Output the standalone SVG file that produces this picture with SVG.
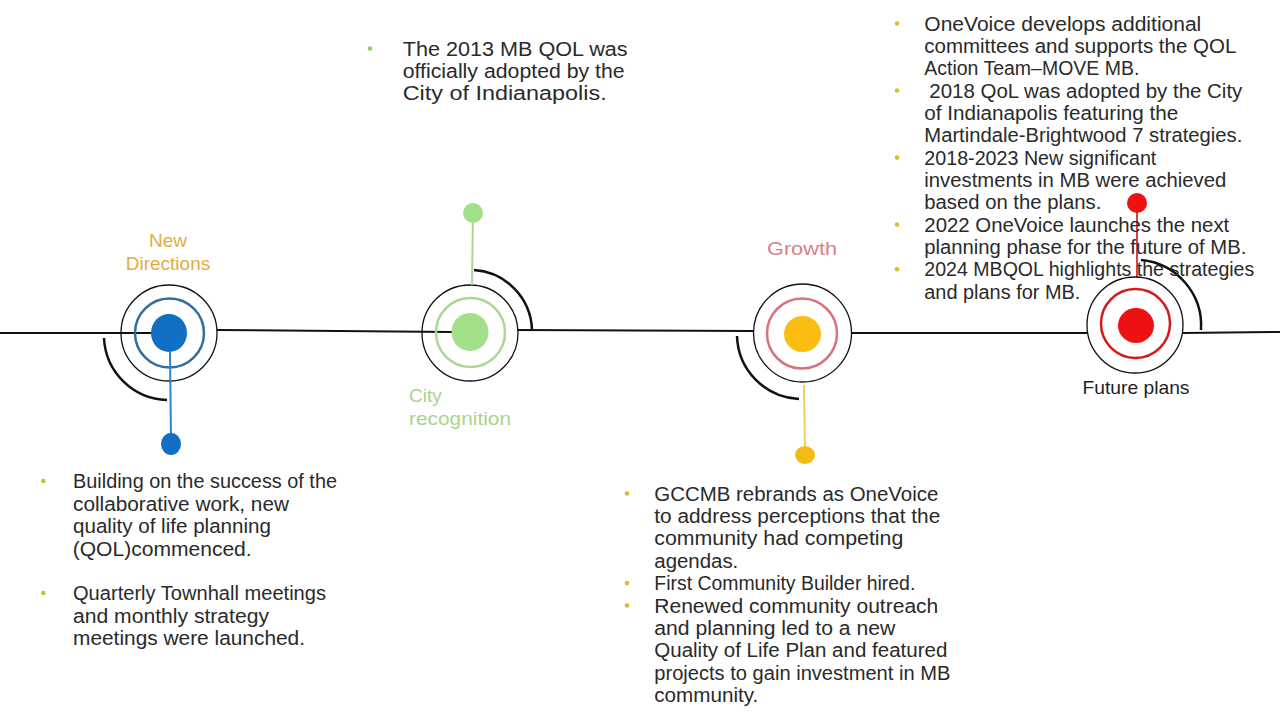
<svg xmlns="http://www.w3.org/2000/svg" width="1280" height="720" viewBox="0 0 1280 720">
<style>
text{font-family:"Liberation Sans",Arial,sans-serif;}
.body{font-size:20px;fill:#2a2a2a;}
.lbl{font-size:19px;}
.outer{fill:#fff;stroke:#111;stroke-width:1.3;}
.arc{fill:none;stroke:#111;stroke-width:2.5;}
.tl{stroke:#111;stroke-width:2;fill:none;}
</style>
<rect width="1280" height="720" fill="#fff"/>
<g id="connectors">
<line class="tl" x1="0" y1="333" x2="152" y2="333"/>
<line class="tl" x1="217" y1="330" x2="452" y2="332"/>
<line class="tl" x1="518" y1="330" x2="753" y2="331"/>
<line class="tl" x1="851" y1="333" x2="1087" y2="333"/>
<line class="tl" x1="1183" y1="333" x2="1280" y2="332"/>
</g>
<g id="node-new-directions">
<path class="arc" d="M104,338 A65,65 0 0 0 167,400"/>
<circle class="outer" cx="169" cy="333" r="48" fill-opacity="0"/>
<circle cx="169.5" cy="333" r="34.5" fill="none" stroke="#2f6e9e" stroke-width="2.5"/>
<ellipse cx="169" cy="333" rx="18" ry="19" fill="#1170c4"/>
<line x1="170" y1="352" x2="171" y2="440" stroke="#2a86c8" stroke-width="2"/>
<ellipse cx="171" cy="444" rx="10" ry="11" fill="#1170c4"/>
<text class="lbl" fill="#e2ad3c" text-anchor="middle"><tspan x="168" y="246.5">New</tspan><tspan x="168" y="269.5">Directions</tspan></text>
</g>
<g id="node-city-recognition">
<path class="arc" d="M474,270 A62,62 0 0 1 532,330"/>
<circle class="outer" cx="470" cy="333" r="48" fill-opacity="0"/>
<circle cx="470.5" cy="332.5" r="34.5" fill="none" stroke="#a9d891" stroke-width="2.5"/>
<ellipse cx="470" cy="332" rx="18.5" ry="19" fill="#a2df89"/>
<line x1="472" y1="285" x2="473" y2="213" stroke="#a9d891" stroke-width="2"/>
<circle cx="473" cy="213" r="10" fill="#a2df89"/>
<text class="lbl" fill="#a8d48e"><tspan x="409" y="402">City</tspan><tspan x="409" y="425" textLength="102" lengthAdjust="spacingAndGlyphs">recognition</tspan></text>
</g>
<g id="node-growth">
<path class="arc" d="M737,336 A65,65 0 0 0 799,399"/>
<circle class="outer" cx="802.5" cy="333" r="49"/>
<circle cx="802" cy="333.5" r="35" fill="none" stroke="#d9727a" stroke-width="2.5"/>
<ellipse cx="802.5" cy="334" rx="18.5" ry="18" fill="#fbbd10"/>
<line x1="804" y1="385" x2="805" y2="452" stroke="#f0d060" stroke-width="2"/>
<ellipse cx="805" cy="455" rx="10" ry="9" fill="#f5bb12"/>
<text class="lbl" fill="#d9808a" text-anchor="middle" x="802" y="255" textLength="70" lengthAdjust="spacingAndGlyphs">Growth</text>
</g>
<g id="node-future-plans">
<path class="arc" d="M1141,260 A66,66 0 0 1 1201,330"/>
<line x1="1137" y1="277" x2="1137" y2="203" stroke="#d84040" stroke-width="2"/>
<circle class="outer" cx="1135" cy="325" r="48"/>
<circle cx="1135.5" cy="323.5" r="34.5" fill="none" stroke="#d01c1c" stroke-width="2.5"/>
<ellipse cx="1136" cy="325.5" rx="18" ry="17.5" fill="#ee1111"/>
<circle cx="1137" cy="203" r="10" fill="#f01010"/>
<text class="lbl" fill="#222" text-anchor="middle" x="1136" y="393.5" textLength="107" lengthAdjust="spacingAndGlyphs">Future plans</text>
</g>
<g id="text-new-directions" class="body">
<circle cx="43.3" cy="481" r="2.3" fill="#b9c93a"/>
<circle cx="43.3" cy="593" r="2.3" fill="#b9c93a"/>
<text x="73" y="488.3" textLength="264" lengthAdjust="spacingAndGlyphs">Building on the success of the</text>
<text x="73" y="510.8" textLength="216" lengthAdjust="spacingAndGlyphs">collaborative work, new</text>
<text x="73" y="533.3" textLength="198" lengthAdjust="spacingAndGlyphs">quality of life planning</text>
<text x="72.7" y="555.8" textLength="179" lengthAdjust="spacingAndGlyphs">(QOL)commenced.</text>
<text x="73" y="600" textLength="253" lengthAdjust="spacingAndGlyphs">Quarterly Townhall meetings</text>
<text x="73" y="622.5" textLength="196" lengthAdjust="spacingAndGlyphs">and monthly strategy</text>
<text x="73" y="645" textLength="232" lengthAdjust="spacingAndGlyphs">meetings were launched.</text>
</g>
<g id="text-city-recognition" class="body">
<circle cx="370" cy="48.5" r="2.3" fill="#8fc870"/>
<text x="402.7" y="55.5" textLength="225" lengthAdjust="spacingAndGlyphs">The 2013 MB QOL was</text>
<text x="402.7" y="78" textLength="222" lengthAdjust="spacingAndGlyphs">officially adopted by the</text>
<text x="402.7" y="100.4" textLength="204" lengthAdjust="spacingAndGlyphs">City of Indianapolis.</text>
</g>
<g id="text-growth" class="body">
<circle cx="627" cy="493.5" r="2.3" fill="#d4c030"/>
<circle cx="627" cy="583.1" r="2.3" fill="#d4c030"/>
<circle cx="627" cy="605.5" r="2.3" fill="#d4c030"/>
<text x="654.3" y="500.5" textLength="284" lengthAdjust="spacingAndGlyphs">GCCMB rebrands as OneVoice</text>
<text x="654.3" y="522.9" textLength="286" lengthAdjust="spacingAndGlyphs">to address perceptions that the</text>
<text x="654.3" y="545.3" textLength="249" lengthAdjust="spacingAndGlyphs">community had competing</text>
<text x="654.3" y="567.7" textLength="84" lengthAdjust="spacingAndGlyphs">agendas.</text>
<text x="654.3" y="590.1" textLength="261" lengthAdjust="spacingAndGlyphs">First Community Builder hired.</text>
<text x="654.3" y="612.5" textLength="284" lengthAdjust="spacingAndGlyphs">Renewed community outreach</text>
<text x="654.3" y="634.9" textLength="241" lengthAdjust="spacingAndGlyphs">and planning led to a new</text>
<text x="654.3" y="657.3" textLength="293" lengthAdjust="spacingAndGlyphs">Quality of Life Plan and featured</text>
<text x="654.3" y="679.7" textLength="296" lengthAdjust="spacingAndGlyphs">projects to gain investment in MB</text>
<text x="654.3" y="702.1" textLength="104" lengthAdjust="spacingAndGlyphs">community.</text>
</g>
<g id="text-future-plans" class="body">
<circle cx="897" cy="23.5" r="2.3" fill="#d4c030"/>
<circle cx="897" cy="90.5" r="2.3" fill="#d4c030"/>
<circle cx="897" cy="157.6" r="2.3" fill="#d4c030"/>
<circle cx="897" cy="224.6" r="2.3" fill="#d4c030"/>
<circle cx="897" cy="269.3" r="2.3" fill="#d4c030"/>
<text x="924.3" y="30.5" textLength="277" lengthAdjust="spacingAndGlyphs">OneVoice develops additional</text>
<text x="924.3" y="52.9" textLength="312" lengthAdjust="spacingAndGlyphs">committees  and supports the QOL</text>
<text x="924.3" y="75.2" textLength="215" lengthAdjust="spacingAndGlyphs">Action Team–MOVE MB.</text>
<text x="929.3" y="97.6" textLength="313" lengthAdjust="spacingAndGlyphs">2018 QoL was adopted by the City</text>
<text x="924.3" y="119.9" textLength="254" lengthAdjust="spacingAndGlyphs">of Indianapolis featuring the</text>
<text x="924.3" y="142.3" textLength="318" lengthAdjust="spacingAndGlyphs">Martindale-Brightwood 7 strategies.</text>
<text x="924.3" y="164.6" textLength="232" lengthAdjust="spacingAndGlyphs">2018-2023 New significant</text>
<text x="924.3" y="187" textLength="302" lengthAdjust="spacingAndGlyphs">investments in MB were achieved</text>
<text x="924.3" y="209.3" textLength="177" lengthAdjust="spacingAndGlyphs">based on the plans.</text>
<text x="924.3" y="231.7" textLength="305" lengthAdjust="spacingAndGlyphs">2022 OneVoice launches the next</text>
<text x="924.3" y="254" textLength="322" lengthAdjust="spacingAndGlyphs">planning phase for the future of MB.</text>
<text x="924.3" y="276.4" textLength="330" lengthAdjust="spacingAndGlyphs">2024 MBQOL highlights the strategies</text>
<text x="924.3" y="298.7" textLength="156" lengthAdjust="spacingAndGlyphs">and plans for MB.</text>
</g>
</svg>
